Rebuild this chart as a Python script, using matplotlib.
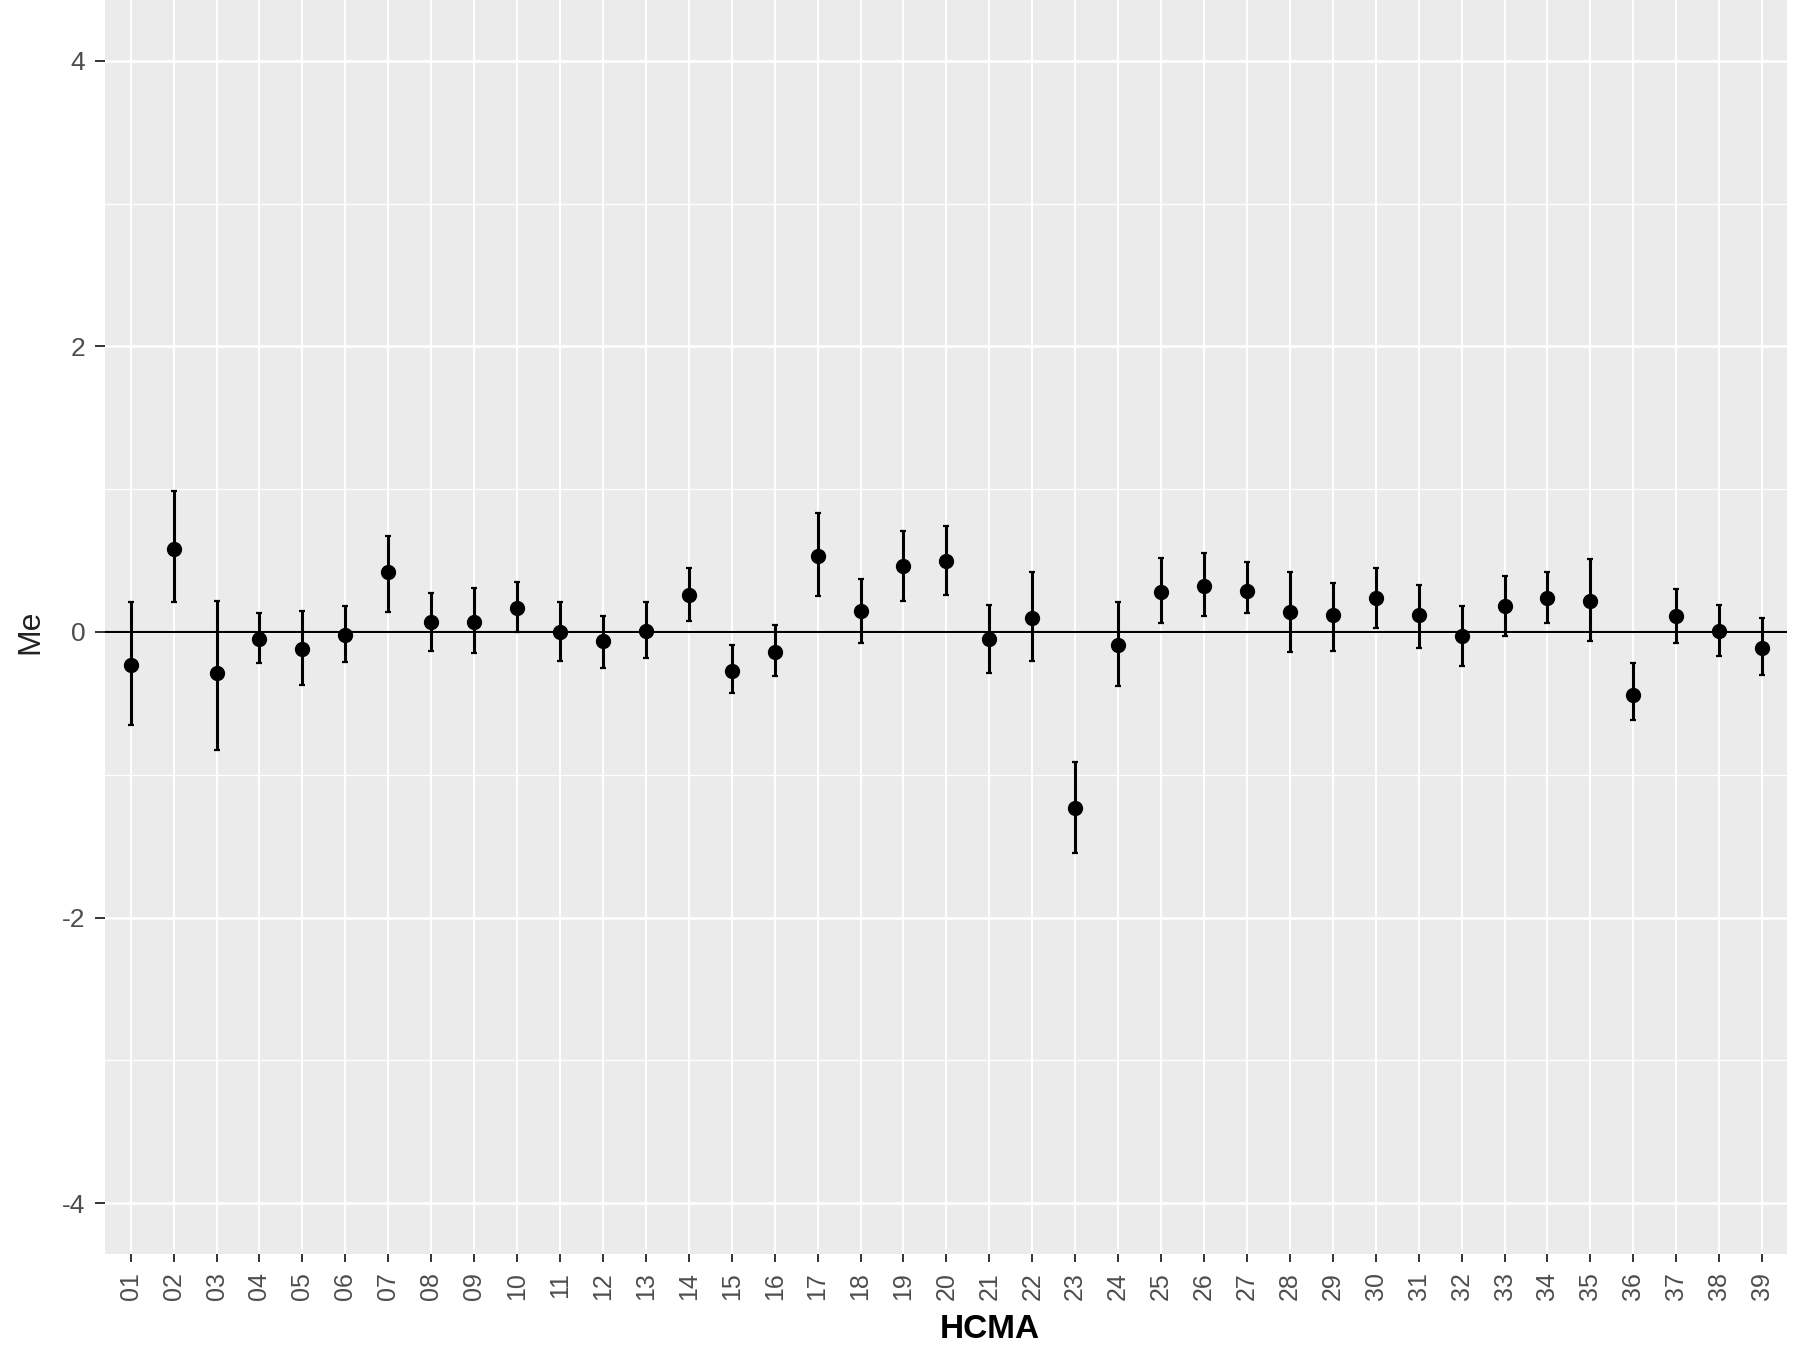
import numpy as np
import matplotlib.pyplot as plt

plt.rcParams.update({'font.family': ['Liberation Sans', 'DejaVu Sans'],
                     'axes.unicode_minus': False})

# HCMA codes and estimated Me with interval bounds
codes = ['%02d' % i for i in range(1, 40)]
me = [-0.23, 0.58, -0.29, -0.05, -0.12, -0.02, 0.42, 0.07, 0.07, 0.17,
      0.00, -0.06, 0.01, 0.26, -0.27, -0.14, 0.53, 0.15, 0.46, 0.50,
      -0.05, 0.10, -1.23, -0.09, 0.28, 0.32, 0.29, 0.14, 0.12, 0.24,
      0.12, -0.03, 0.18, 0.24, 0.22, -0.44, 0.11, 0.01, -0.11]
upper = [0.21, 0.99, 0.22, 0.13, 0.15, 0.18, 0.67, 0.27, 0.31, 0.35,
         0.21, 0.11, 0.21, 0.45, -0.09, 0.05, 0.83, 0.37, 0.71, 0.74,
         0.19, 0.42, -0.91, 0.21, 0.52, 0.55, 0.49, 0.42, 0.34, 0.45,
         0.33, 0.18, 0.39, 0.42, 0.51, -0.22, 0.30, 0.19, 0.10]
lower = [-0.65, 0.21, -0.83, -0.22, -0.37, -0.21, 0.14, -0.13, -0.15, 0.00,
         -0.20, -0.25, -0.18, 0.08, -0.43, -0.31, 0.25, -0.08, 0.22, 0.26,
         -0.29, -0.20, -1.55, -0.38, 0.06, 0.11, 0.13, -0.14, -0.13, 0.03,
         -0.11, -0.24, -0.03, 0.06, -0.06, -0.62, -0.08, -0.17, -0.30]

x = np.arange(1, len(codes) + 1)
me = np.array(me)
yerr = [me - np.array(lower), np.array(upper) - me]

fig = plt.figure(figsize=(18, 13.46), dpi=100)
ax = fig.add_axes([0.0583, 0.0684, 0.9345, 0.9316])
ax.set_facecolor('#EBEBEB')

ax.set_xlim(0.4, 39.58)
ax.set_ylim(-4.356, 4.426)

ax.set_yticks([-4, -2, 0, 2, 4], labels=['-4', '-2', '0', '2', '4'])
ax.set_yticks([-3, -1, 1, 3], minor=True)
ax.set_xticks(x, labels=codes, rotation=90)

ax.grid(True, which='major', axis='y', color='white', lw=1.8)
ax.grid(True, which='minor', axis='y', color='white', lw=0.9)
ax.grid(True, which='major', axis='x', color='white', lw=1.4)
ax.set_axisbelow(True)

ax.tick_params(axis='y', which='major', length=7, width=1.4, color='#333333',
               labelsize=19, labelcolor='#4D4D4D', pad=7)
ax.tick_params(axis='y', which='minor', length=0)
ax.tick_params(axis='x', length=6, width=1.4, color='#333333',
               labelsize=18, labelcolor='#4D4D4D', pad=7)
for side in ax.spines.values():
    side.set_visible(False)

ax.axhline(0, color='black', lw=1.5, zorder=2)
ax.errorbar(x, me, yerr=yerr, fmt='o', color='black', ms=10, elinewidth=2.2,
            capsize=2.5, capthick=1.6, zorder=3)

fig.text(0.0167, 0.5305, 'Me', rotation=90, ha='center', va='center',
         fontsize=23, color='#222222')
fig.text(0.55, 0.001, 'HCMA', ha='center', va='bottom', fontsize=24,
         fontweight='bold', color='black')

fig.savefig('out.png', dpi=100)
